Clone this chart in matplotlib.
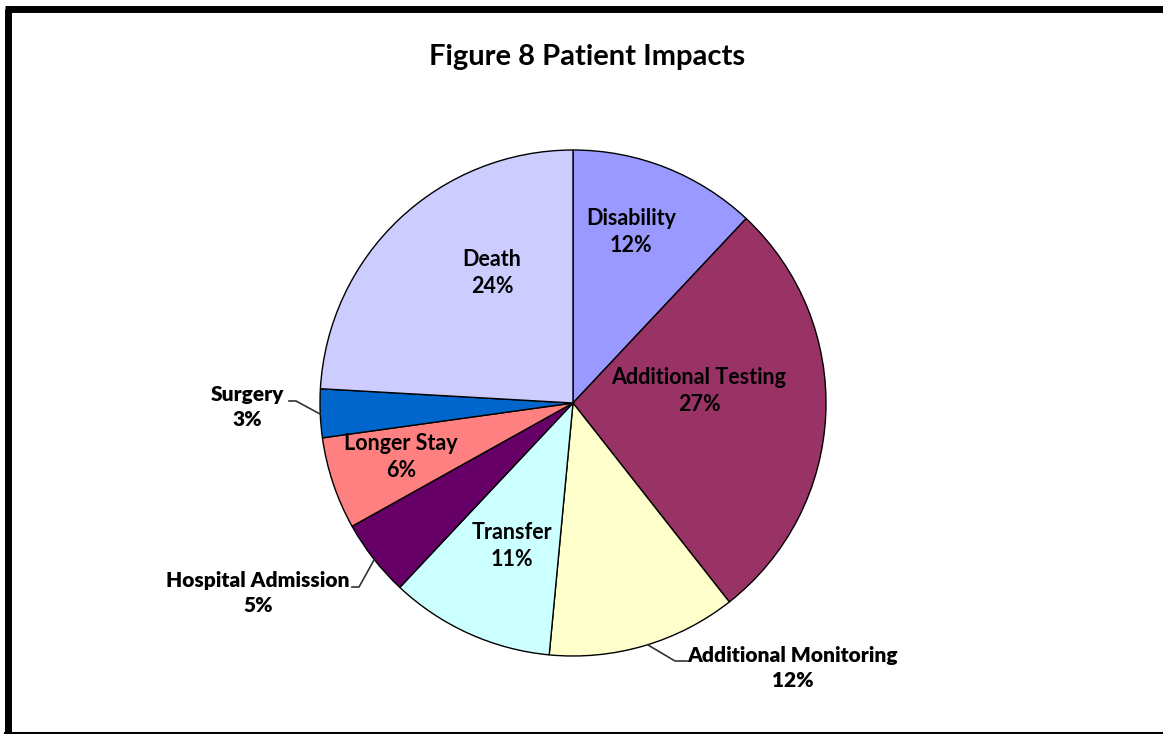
import matplotlib.pyplot as plt
import numpy as np

labels = ['Disability', 'Additional Testing', 'Additional Monitoring', 'Transfer',
          'Hospital Admission', 'Longer Stay', 'Surgery', 'Death']
# slice sizes; shown percentages as printed on the chart
values = [12.0, 27.4, 12.1, 10.5, 4.9, 5.9, 3.1, 24.1]
shown_pct = [12, 27, 12, 11, 5, 6, 3, 24]
colors = ['#9999FF', '#993366', '#FFFFCC', '#CCFFFF',
          '#660066', '#FF8080', '#0066CC', '#CCCCFF']

W, H = 1163, 734
fig = plt.figure(figsize=(W / 100, H / 100), dpi=100)
ax = fig.add_axes([0, 0, 1, 1])
ax.set_xlim(0, W)
ax.set_ylim(0, H)
ax.set_aspect('equal')
ax.axis('off')

cx, cy, r = 573, H - 403, 253
wedges, _ = ax.pie(values, colors=colors, startangle=90, counterclock=False,
                   center=(cx, cy), radius=r,
                   wedgeprops=dict(edgecolor='black', linewidth=1.0))
ax.set_xlim(0, W)
ax.set_ylim(0, H)

font = 'Lato'

# labels inside the pie (pixel positions, y from top)
inside = {
    'Disability': (631, 232),
    'Additional Testing': (699, 391),
    'Transfer': (512, 546),
    'Longer Stay': (401, 457),
    'Death': (492, 273),
}
for lab, pct in zip(labels, shown_pct):
    if lab in inside:
        x, y = inside[lab]
        ax.text(x, H - y, f'{lab}\n{pct}%', ha='center', va='center',
                fontsize=15.5, fontweight='bold', family=font, linespacing=1.35)

# outside labels with leader lines
outside = {
    'Surgery': ((247, 407), [(289, 401), (296, 401), (320, 414)]),
    'Hospital Admission': ((258, 593), [(352, 587), (359, 587), (374, 560)]),
    'Additional Monitoring': ((793, 668), [(687, 661), (675, 661), (648, 645)]),
}
for lab, pct in zip(labels, shown_pct):
    if lab in outside:
        (x, y), pts = outside[lab]
        ax.text(x, H - y, f'{lab}\n{pct}%', ha='center', va='center',
                fontsize=15, fontweight='heavy', family=font, linespacing=1.35)
        px = [p[0] for p in pts]
        py = [H - p[1] for p in pts]
        ax.plot(px, py, color='#333333', linewidth=1.2)

ax.text(587, H - 57, 'Figure 8 Patient Impacts', ha='center', va='center',
        fontsize=21, fontweight='bold', family=font)

# outer frame
ax.plot([7.5, 7.5], [H - 9, 0], color='black', linewidth=5, solid_capstyle='butt')
ax.plot([5, W], [H - 9, H - 9], color='black', linewidth=5, solid_capstyle='butt')
ax.plot([5, W], [1, 1], color='black', linewidth=1.5)

fig.savefig('out.png', dpi=100)
